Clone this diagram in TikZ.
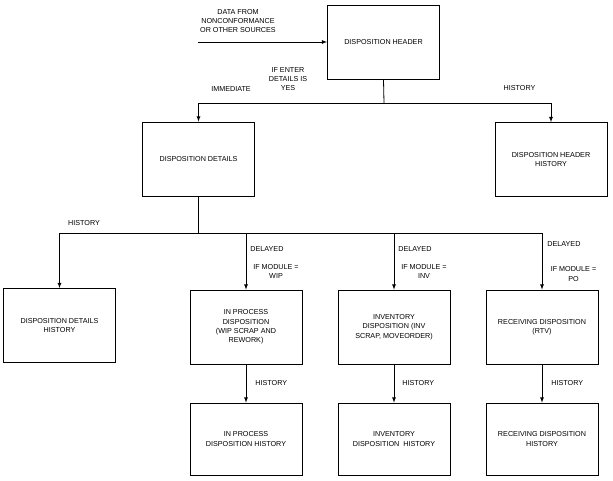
\documentclass[tikz,border=0pt]{standalone}
\usepackage{fontspec}
\setmainfont{Liberation Sans}

\begin{document}
\begin{tikzpicture}[x=1pt, y=-1pt, line width=0.8pt,
    font=\fontsize{7.2}{9.3}\selectfont,
    box/.style={rectangle, draw, minimum width=112pt, minimum height=74pt, align=center, inner sep=0pt},
    lbl/.style={align=center, inner sep=0pt}]
    \useasboundingbox (0,0) rectangle (613,480);

    \node at (383.5,42) [box] (Header) {DISPOSITION HEADER};
    \node at (198.5,159) [box] (Details) {DISPOSITION DETAILS};
    \node at (551,159.5) [box] (HeaderHistory) {DISPOSITION HEADER\\HISTORY};
    \node at (59.5,325.5) [box] (DetailsHistory) {DISPOSITION DETAILS\\HISTORY};
    \node at (246,327) [box] (InProcess) {IN PROCESS\\DISPOSITION\\(WIP SCRAP AND\\REWORK)};
    \node at (394,327) [box] (Inventory) {INVENTORY\\DISPOSITION (INV\\SCRAP, MOVEORDER)};
    \node at (542,327) [box] (Receiving) {RECEIVING DISPOSITION\\(RTV)};
    \node at (246,439) [box, minimum height=72pt] (InProcessHistory) {IN PROCESS\\DISPOSITION HISTORY};
    \node at (394,439) [box, minimum height=72pt] (InventoryHistory) {INVENTORY\\DISPOSITION \ HISTORY};
    \node at (542,439) [box, minimum height=72pt] (ReceivingHistory) {RECEIVING DISPOSITION\\HISTORY};

    % incoming data
    \coordinate (Source) at (198,42);
    \node at (238,21) [lbl] (SourceLabel) {DATA FROM\\NONCONFORMANCE\\OR OTHER SOURCES};
    \draw[-latex] (Source) -- (Header.west);

    % header to details
    \coordinate (HeaderSplit) at (384,103);
    \draw (Header.south) -- (HeaderSplit);
    \draw[-latex] (HeaderSplit) -| (Details.north);
    \draw[-latex] (HeaderSplit) -| (HeaderHistory.north);
    \node at (231,89) [lbl] (Immediate) {IMMEDIATE};
    \node at (288,79) [lbl] (EnterDetails) {IF ENTER\\DETAILS IS\\YES};
    \node at (519.5,88) [lbl] (HeaderHistoryLabel) {HISTORY};

    % details to dispositions
    \coordinate (DetailsSplit) at (198.5,233);
    \draw (Details.south) -- (DetailsSplit);
    \draw[-latex] (DetailsSplit) -| (DetailsHistory.north);
    \draw[-latex] (DetailsSplit) -| (InProcess.north);
    \draw[-latex] (DetailsSplit) -| (Inventory.north);
    \draw[-latex] (DetailsSplit) -| (Receiving.north);
    \node at (84,223) [lbl] (DetailsHistoryLabel) {HISTORY};

    \node at (250,249) [lbl, anchor=west] (DelayedWip) {DELAYED};
    \node at (276,271.5) [lbl] (ModuleWip) {IF MODULE =\\WIP};
    \node at (398,249) [lbl, anchor=west] (DelayedInv) {DELAYED};
    \node at (424,271.5) [lbl] (ModuleInv) {IF MODULE =\\INV};
    \node at (547,244) [lbl, anchor=west] (DelayedPo) {DELAYED};
    \node at (573.5,274) [lbl] (ModulePo) {IF MODULE =\\PO};

    % history of each disposition
    \draw[-latex] (InProcess.south) -- (InProcessHistory.north);
    \draw[-latex] (Inventory.south) -- (InventoryHistory.north);
    \draw[-latex] (Receiving.south) -- (ReceivingHistory.north);
    \node at (255,383) [lbl, anchor=west] (InProcessHistoryLabel) {HISTORY};
    \node at (402,383) [lbl, anchor=west] (InventoryHistoryLabel) {HISTORY};
    \node at (551,383) [lbl, anchor=west] (ReceivingHistoryLabel) {HISTORY};
\end{tikzpicture}
\end{document}
